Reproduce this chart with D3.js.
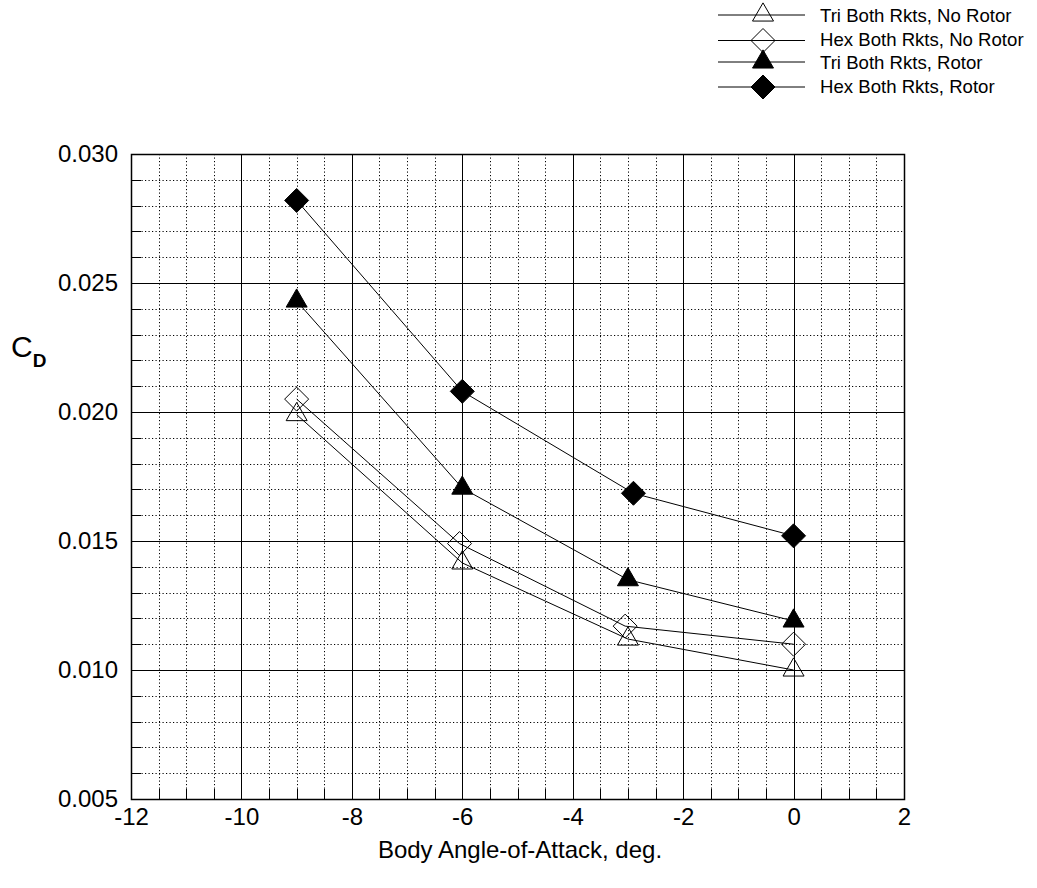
<!DOCTYPE html>
<html>
<head>
<meta charset="utf-8">
<script src="https://cdn.jsdelivr.net/npm/d3@7/dist/d3.min.js"></script>
<style>
  html, body { margin: 0; padding: 0; background: #fff; }
  svg { display: block; font-family: "Liberation Sans", Arial, sans-serif; }
</style>
</head>
<body>
<svg id="chart" width="1037" height="888"></svg>
<script>
// ---- Data ----
const seriesNames = ["Tri Both Rkts, No Rotor", "Hex Both Rkts, No Rotor", "Tri Both Rkts, Rotor", "Hex Both Rkts, Rotor"];
const triNoRotorX = [-9, -6, -3, 0];
const triNoRotorY = [0.0199, 0.01415, 0.0112, 0.0100];
const hexNoRotorX = [-9, -6.05, -3.05, 0];
const hexNoRotorY = [0.0205, 0.0149, 0.0117, 0.0110];
const triRotorX = [-9, -6, -3, 0];
const triRotorY = [0.0243, 0.01705, 0.0135, 0.0119];
const hexRotorX = [-9, -6, -2.9, 0];
const hexRotorY = [0.0282, 0.0208, 0.01685, 0.0152];
const xTicks = [-12, -10, -8, -6, -4, -2, 0, 2];
const yTicks = [0.005, 0.010, 0.015, 0.020, 0.025, 0.030];
const xLabel = "Body Angle-of-Attack, deg.";

const svg = d3.select("#chart");
const L = 131, R = 904, T = 154, B = 799;
const x = d3.scaleLinear().domain([-12, 2]).range([L, R]);
const y = d3.scaleLinear().domain([0.005, 0.030]).range([B, T]);
const px = v => Math.round(v) + 0.5;

// minor grid (dotted)
const xMinor = d3.range(-12, 2.0001, 0.5).filter(v => Math.abs(v / 2 - Math.round(v / 2)) > 1e-6);
const yMinor = d3.range(0.005, 0.03001, 0.001).filter(v => Math.abs(v / 0.005 - Math.round(v / 0.005)) > 1e-6);
const g = svg.append("g");
g.selectAll(".vminor").data(xMinor).enter().append("line")
  .attr("x1", d => px(x(d))).attr("x2", d => px(x(d))).attr("y1", T).attr("y2", B)
  .attr("stroke", "#000").attr("stroke-width", 1).attr("stroke-dasharray", "1.2,2.3");
g.selectAll(".hminor").data(yMinor).enter().append("line")
  .attr("y1", d => px(y(d))).attr("y2", d => px(y(d))).attr("x1", L).attr("x2", R)
  .attr("stroke", "#000").attr("stroke-width", 1).attr("stroke-dasharray", "1.2,2.3");
// minor ticks (inside)
g.selectAll(".bt").data(xMinor).enter().append("line")
  .attr("x1", d => px(x(d))).attr("x2", d => px(x(d))).attr("y1", B).attr("y2", B - 10)
  .attr("stroke", "#000");
g.selectAll(".lt").data(yMinor).enter().append("line")
  .attr("y1", d => px(y(d))).attr("y2", d => px(y(d))).attr("x1", L).attr("x2", L + 10)
  .attr("stroke", "#000");
// major grid (solid)
g.selectAll(".vmaj").data(xTicks.slice(1, -1)).enter().append("line")
  .attr("x1", d => px(x(d))).attr("x2", d => px(x(d))).attr("y1", T).attr("y2", B)
  .attr("stroke", "#000").attr("stroke-width", 1);
g.selectAll(".hmaj").data(yTicks.slice(1, -1)).enter().append("line")
  .attr("y1", d => px(y(d))).attr("y2", d => px(y(d))).attr("x1", L).attr("x2", R)
  .attr("stroke", "#000").attr("stroke-width", 1);
// frame
svg.append("rect").attr("x", px(L)).attr("y", px(T)).attr("width", Math.round(R) - Math.round(L)).attr("height", Math.round(B) - Math.round(T))
  .attr("fill", "none").attr("stroke", "#000").attr("stroke-width", 1.5);

// axis labels via d3 axes
const xAxis = d3.axisBottom(x).tickValues(xTicks).tickSize(0).tickPadding(0).tickFormat(d3.format("d"));
const xa = svg.append("g").attr("transform", `translate(0,${B})`).call(xAxis);
xa.select(".domain").remove();
xa.selectAll("text").attr("font-size", 24).attr("font-family", "Liberation Sans, Arial, sans-serif")
  .attr("fill", "#000").attr("dy", null).attr("y", 26);
xa.selectAll("text").text(d => d < 0 ? "-" + Math.abs(d) : d);

const yAxis = d3.axisLeft(y).tickValues(yTicks).tickSize(0).tickPadding(13).tickFormat(d3.format(".3f"));
const ya = svg.append("g").attr("transform", `translate(${L},0)`).call(yAxis);
ya.select(".domain").remove();
ya.selectAll("text").attr("font-size", 24).attr("font-family", "Liberation Sans, Arial, sans-serif").attr("fill", "#000");

// axis titles
svg.append("text").attr("x", 520).attr("y", 858).attr("text-anchor", "middle")
  .attr("font-size", 24).text(xLabel);
const cd = svg.append("text").attr("x", 11).attr("y", 357).attr("font-size", 30);
cd.append("tspan").text("C");
cd.append("tspan").attr("font-size", 19).attr("font-weight", "bold").attr("dy", 10).text("D");

// symbols
function diamondPath(h) { return `M0,${-h}L${h},0L0,${h}L${-h},0Z`; }
const triSym = d3.symbol().type(d3.symbolTriangle).size(Math.sqrt(3) / 4 * 21 * 21);
const series = [
  { name: seriesNames[0], xs: triNoRotorX, ys: triNoRotorY, shape: "tri", fill: "none" },
  { name: seriesNames[1], xs: hexNoRotorX, ys: hexNoRotorY, shape: "dia", fill: "none" },
  { name: seriesNames[2], xs: triRotorX, ys: triRotorY, shape: "tri", fill: "#000" },
  { name: seriesNames[3], xs: hexRotorX, ys: hexRotorY, shape: "dia", fill: "#000" }
];
const line = d3.line().x(d => x(d[0])).y(d => y(d[1]));
series.forEach(s => {
  const pts = s.xs.map((v, i) => [v, s.ys[i]]);
  svg.append("path").attr("d", line(pts)).attr("fill", "none").attr("stroke", "#000").attr("stroke-width", 1);
  svg.selectAll(null).data(pts).enter().append("path")
    .attr("transform", d => `translate(${x(d[0])},${y(d[1])})`)
    .attr("d", s.shape === "tri" ? triSym() : diamondPath(12))
    .attr("fill", s.fill).attr("stroke", "#000").attr("stroke-width", 1);
});

// legend
const legY = [15, 40.5, 62, 87];
const legTextY = [15.5, 39.5, 62.5, 86];
series.forEach((s, i) => {
  svg.append("line").attr("x1", 718).attr("x2", 805).attr("y1", legY[i]).attr("y2", legY[i])
    .attr("stroke", "#000").attr("stroke-width", 1);
  svg.append("path").attr("transform", `translate(763,${legY[i]})`)
    .attr("d", s.shape === "tri" ? triSym() : diamondPath(12))
    .attr("fill", s.fill).attr("stroke", "#000").attr("stroke-width", 1);
  svg.append("text").attr("x", 820).attr("y", legTextY[i]).attr("dy", "0.35em")
    .attr("font-size", 18.6).text(s.name);
});
</script>
</body>
</html>
